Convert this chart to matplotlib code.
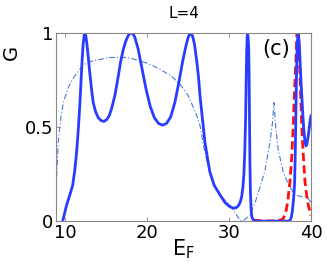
import numpy as np
import matplotlib
matplotlib.use('Agg')
import matplotlib.pyplot as plt

# thick blue solid curve
E_solid = [9.72, 9.95, 10.2, 10.6, 10.94, 11.2, 11.43, 11.65, 11.83, 11.97, 12.1, 12.22, 12.33,
           12.44, 12.55, 12.68, 12.85, 13.0, 13.15, 13.3, 13.45, 13.75, 14.06, 14.4, 14.76, 15.1,
           15.4, 15.7, 16.1, 16.5, 16.8, 17.1, 17.4, 17.7, 17.9, 18.1, 18.3, 18.5, 18.9, 19.4,
           19.9, 20.4, 20.9, 21.4, 21.9, 22.4, 22.9, 23.4, 23.9, 24.4, 24.8, 25.05, 25.3, 25.55,
           25.8, 26.1, 26.3, 26.46, 26.8, 27.07, 27.4, 27.68, 28.2, 28.9, 29.5, 30.12, 30.5,
           30.73, 31.0, 31.2, 31.4, 31.55, 31.7, 31.82, 31.93, 32.03, 32.1, 32.16, 32.22, 32.27,
           32.33, 32.4, 32.45, 32.5, 32.56, 32.62, 32.7, 32.8, 33.0, 33.2, 37.3, 37.44, 37.6,
           37.75, 37.9, 38.0, 38.08, 38.17, 38.25, 38.33, 38.45, 38.57, 38.68, 38.8, 38.9, 39.0,
           39.1, 39.18, 39.28, 39.39, 39.5, 39.62, 39.75, 39.88, 40.0]
G_solid = [0.0, 0.04, 0.085, 0.14, 0.19, 0.27, 0.37, 0.5, 0.63, 0.75, 0.86, 0.94, 0.985,
           1.0, 0.985, 0.94, 0.87, 0.8, 0.74, 0.68, 0.63, 0.58, 0.55, 0.535, 0.53, 0.54,
           0.56, 0.6, 0.67, 0.77, 0.85, 0.91, 0.955, 0.985, 0.997, 1.0, 0.995, 0.98, 0.92, 0.81,
           0.7, 0.61, 0.55, 0.52, 0.51, 0.52, 0.555, 0.63, 0.74, 0.86, 0.94, 0.98, 1.0, 0.985,
           0.94, 0.84, 0.76, 0.67, 0.53, 0.42, 0.33, 0.26, 0.19, 0.14, 0.1, 0.076, 0.07,
           0.069, 0.075, 0.085, 0.105, 0.13, 0.18, 0.25, 0.37, 0.55, 0.75, 0.9, 0.98, 1.0,
           0.98, 0.93, 0.8, 0.55, 0.3, 0.15, 0.06, 0.02, 0.005, 0.0, 0.0, 0.005, 0.02,
           0.06, 0.13, 0.2, 0.35, 0.6, 0.82, 0.95, 1.0, 0.95, 0.84, 0.73, 0.65, 0.57,
           0.5, 0.46, 0.42, 0.40, 0.41, 0.44, 0.48, 0.53, 0.56]

# red dashed curve
E_red = [33.0, 34.5, 35.8, 36.3, 36.62, 36.9, 37.15, 37.44, 37.65, 37.84, 38.0, 38.17, 38.28,
         38.4, 38.57, 38.72, 38.87, 39.05, 39.27, 39.5, 39.7, 39.9, 40.0]
G_red = [0.005, 0.0, 0.002, 0.006, 0.014, 0.04, 0.1, 0.21, 0.34, 0.51, 0.7, 0.87, 1.0,
         1.0, 0.87, 0.7, 0.51, 0.36, 0.21, 0.13, 0.08, 0.05, 0.03]

# thin dash-dot curve
E_dd = [8.9, 9.0, 9.18, 9.5, 9.8, 10.4, 11.0, 12.2, 13.2, 14.3, 15.4, 16.5, 17.5, 18.5, 20.0,
        21.5, 23.0, 24.0, 25.0, 26.0, 26.46, 27.0, 27.68, 28.5, 29.3, 30.12, 30.8, 31.34, 31.7,
        32.1, 32.56, 33.2, 33.78, 34.4, 35.0, 35.3, 35.49, 35.7, 36.0, 36.62, 37.3, 38.05, 38.8,
        39.5, 40.0]
G_dd = [0.12, 0.25, 0.42, 0.55, 0.63, 0.71, 0.76, 0.83, 0.85, 0.86, 0.87, 0.87, 0.87, 0.86, 0.84,
        0.81, 0.77, 0.73, 0.67, 0.57, 0.51, 0.38, 0.25, 0.17, 0.12, 0.085, 0.04, 0.005, 0.0,
        0.015, 0.03, 0.1, 0.18, 0.27, 0.42, 0.52, 0.63, 0.5, 0.38, 0.26, 0.19, 0.14, 0.13,
        0.13, 0.1]

fig = plt.figure(figsize=(3.27, 2.73), dpi=100)
ax = fig.add_axes([0.171, 0.19, 0.78, 0.689])

ax.plot(E_dd, G_dd, color='#4a78d8', lw=0.8, dashes=[5, 2, 1, 2])
ax.plot(E_red, G_red, color='#ff1010', lw=2.0, dashes=[3, 1.5])
ax.plot(E_solid, G_solid, color='#2a3cff', lw=2.0)

ax.set_xlim(8.9, 40)
ax.set_ylim(0, 1)
ax.set_xticks([10, 20, 30, 40])
ax.set_yticks([0, 0.5, 1])
ax.set_yticklabels(['0', '0.5', '1'])
ax.tick_params(direction='in', top=True, right=True, labelsize=13, pad=2, length=3,
               width=0.6, color='#888888')
for s in ax.spines.values():
    s.set_color('#888888')
    s.set_linewidth(0.8)

ax.set_xlabel('E$_\\mathregular{F}$', fontsize=15, labelpad=-3)
ax.set_ylabel('G', fontsize=14)
ax.yaxis.set_label_coords(-0.137, 0.896)
ax.set_title('L=4', fontsize=11, pad=11)
ax.text(0.808, 0.967, '(c)', transform=ax.transAxes, fontsize=15, ha='left', va='top')

fig.savefig('out.png', dpi=100)
